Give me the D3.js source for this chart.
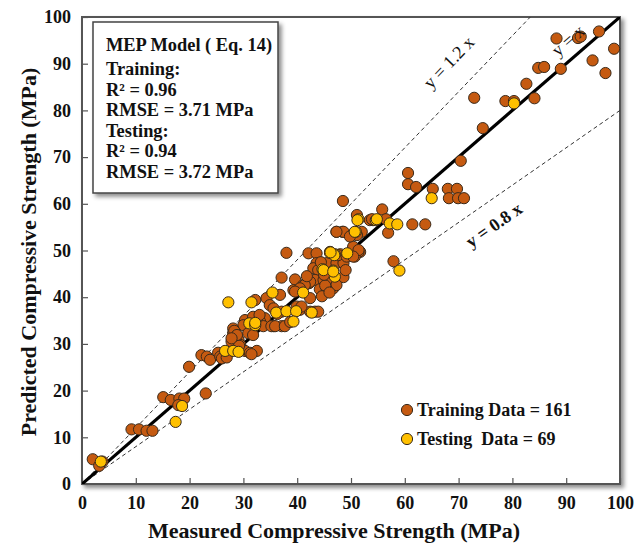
<!DOCTYPE html>
<html><head><meta charset="utf-8">
<script src="https://cdn.jsdelivr.net/npm/d3@7"></script>
<style>body{margin:0;background:#fff}svg{display:block}</style>
</head><body>
<script>
const xTicks=[0,10,20,30,40,50,60,70,80,90,100];
const yTicks=[0,10,20,30,40,50,60,70,80,90,100];
const trainX=[88.2,92.2,92.7,96.1,98.9,94.9,97.3,89,84.8,85.9,82.6,78.7,80.3,84.1,72.9,74.5,70.4,
60.6,60.6,62.1,65.2,68,69.7,68.2,69.9,71,
55.8,57.9,61.4,63.8,56.9,56.5,53.5,54.1,52,51.7,
48.5,51.1,53.9,47.3,48.4,50.1,42.1,43.6,48,50.4,51.4,50.7,46.7,48,48.6,
38.0,37.1,39.6,42.2,41.1,43.6,45.5,39.3,34.3,34.9,35.6,32.2,37.1,40.5,42.4,43.3,34,33.1,30.3,30,33.7,35.6,37.1,28.1,
39.9,40.8,36.3,35.2,35.9,37.7,32.2,28.4,28.1,30.9,31.8,29.1,28.1,29.4,25.3,30.3,31.2,32.5,31.5,22.2,23.2,23.8,
2.0,3.8,3.2,9.2,10.6,12.0,13.1,15.1,16.5,18.1,19.0,17.9,23.0,
19.9,25.7,26,26.9,27.8,29.2,
43.0,43.9,43.3,44.9,45.8,46.7,47.3,44.2,45.5,42.4,41.4,40.5,39.6,42.4,43.9,47.3,48.6,47.6,49.2,50.4,51.4,50.4,51.1,48.6,47.3,49.8,
28.3,28.8,27.8,31.8,38.7,44.4,45.2,41.8,36.8,33.0,44.6,46.0,49.0,45.0];
const trainY=[95.4,95.5,95.8,96.9,93.2,90.7,88.0,88.9,89.1,89.3,85.7,82.0,82.0,82.6,82.7,76.2,69.2,
66.6,64.2,63.6,63.2,63.2,63.2,61.2,61.2,61.2,
58.8,47.7,55.6,55.6,53.8,56.7,56.5,56.5,54,49.7,
60.6,57.6,56.7,54.0,54.0,53.3,49.4,49.4,49.2,50.5,49.7,48.7,47.6,47.6,44.3,
49.5,44.2,43.8,43.0,42.6,47.3,47.3,41.5,39.8,38.3,37.6,39.4,36.9,37.3,36.9,36.9,35.5,34.8,35.1,34,33.8,33.8,33.8,33.3,
38,38,36.4,33.8,33.8,33.8,34.8,32.6,32.3,32.3,31.9,30.8,30.5,29.8,28.1,28.5,28.1,28.5,27.8,27.6,27.3,26.6,
5.3,4.8,3.9,11.7,11.7,11.4,11.4,18.6,18.0,18.3,18.3,16.9,19.4,
25.1,27.3,26.9,27.1,30.5,29.6,
46.2,45.8,43.7,43.7,43.7,41.9,42.6,41.7,41.7,43.3,42.6,41.9,41.2,39.8,36.9,47.3,47.3,49,48.7,50.8,50.1,48.7,53.3,54,54,53,
32.8,31.9,31.2,35.8,34.7,47.5,42.5,44.5,40.5,36.2,40.2,41.0,45.8,44.8];
const testX=[80.3,65,54.6,57.2,58.6,51.4,54.8,50.9,46.1,47,49.3,59,44.7,46.7,47,46.1,46.9,44.9,35.4,41.1,27.2,31.5,36.1,38.0,39.8,42.7,39.3,31.1,32.2,26.6,28.1,29.1,3.5,17.4,18.6,46.2,50.7,51.2,32.2,46.7];
const testY=[81.5,61.2,56.5,55.8,55.6,56.7,56.7,54.0,49.7,49.2,49.4,45.7,46.0,45.7,44.4,49.5,49.0,45.8,41.0,41.0,38.9,38.9,36.7,37.0,37.0,36.7,34.8,34.4,34.0,28.5,28.5,28.3,4.8,13.3,16.7,49.6,54,56.5,34.5,45.5];
const infoLines=["MEP Model ( Eq. 14)","Training:","R\u00B2 = 0.96","RMSE = 3.71 MPa","Testing:","R\u00B2 = 0.94","RMSE = 3.72 MPa"];
const legendLabels=["Training Data = 161","Testing  Data = 69"];

const W=642,H=544;
const L=82,R=620,T=17,B=484;
const font="'Liberation Serif','Times New Roman',serif";
const cTrain="#C55A11",cTest="#FFC000";

const svg=d3.select("body").append("svg").attr("width",W).attr("height",H);
const defs=svg.append("defs");
const f=defs.append("filter").attr("id","sh").attr("x","-10%").attr("y","-10%").attr("width","130%").attr("height","130%");
f.append("feDropShadow").attr("dx",3).attr("dy",3).attr("stdDeviation",2).attr("flood-color","#000").attr("flood-opacity",0.45);
defs.append("clipPath").attr("id","clip").append("rect").attr("x",L).attr("y",T).attr("width",R-L).attr("height",B-T);

const x=d3.scaleLinear().domain([0,100]).range([L,R]);
const y=d3.scaleLinear().domain([0,100]).range([B,T]);

svg.append("rect").attr("x",L).attr("y",T).attr("width",R-L).attr("height",B-T)
  .attr("fill","#fff").attr("stroke","#555").attr("stroke-width",2).attr("filter","url(#sh)");

const gx=svg.append("g").attr("transform",`translate(0,${B})`)
  .call(d3.axisBottom(x).tickValues(xTicks).tickSize(-6).tickPadding(12).tickFormat(d3.format("d")));
const gy=svg.append("g").attr("transform",`translate(${L},0)`)
  .call(d3.axisLeft(y).tickValues(yTicks).tickSize(-6).tickPadding(11).tickFormat(d3.format("d")));
[gx,gy].forEach(g=>{
  g.select(".domain").remove();
  g.selectAll(".tick line").attr("stroke","#555").attr("stroke-width",1.2);
  g.selectAll("text").attr("font-family",font).attr("font-weight","bold").attr("font-size",18).attr("fill","#111");
});

const gl=svg.append("g").attr("clip-path","url(#clip)");
const line=d3.line().x(d=>x(d[0])).y(d=>y(d[1]));
gl.append("path").attr("d",line([[0,0],[100,120]])).attr("stroke","#333").attr("stroke-width",1).attr("stroke-dasharray","4,3").attr("fill","none");
gl.append("path").attr("d",line([[0,0],[100,80]])).attr("stroke","#333").attr("stroke-width",1).attr("stroke-dasharray","4,3").attr("fill","none");
gl.append("path").attr("d",line([[0,0],[100,100]])).attr("stroke","#000").attr("stroke-width",3.2).attr("fill","none");

const gp=svg.append("g");
gp.selectAll("circle.tr").data(d3.range(trainX.length)).join("circle").attr("class","tr")
  .attr("cx",i=>x(trainX[i])).attr("cy",i=>y(trainY[i])).attr("r",5.6)
  .attr("fill",cTrain).attr("stroke","#3a2a1a").attr("stroke-width",1);
gp.selectAll("circle.te").data(d3.range(testX.length)).join("circle").attr("class","te")
  .attr("cx",i=>x(testX[i])).attr("cy",i=>y(testY[i])).attr("r",5.6)
  .attr("fill",cTest).attr("stroke","#3a2a1a").attr("stroke-width",1);

function rotLabel(vx,vy,slope,txt,bold){
  const ang=-Math.atan(slope*(B-T)/(R-L))*180/Math.PI;
  svg.append("text").attr("transform",`translate(${x(vx)},${y(vy)}) rotate(${ang})`)
    .attr("text-anchor","middle").attr("font-family",font).attr("font-size",18)
    .attr("font-weight",bold?"bold":"normal").attr("fill","#111").text(txt);
}
rotLabel(69,89.4,1.2,"y = 1.2 x",false);
rotLabel(77.2,54.4,0.8,"y = 0.8 x",true);
rotLabel(91.1,94,1.0,"y = x",false);

svg.append("rect").attr("x",93).attr("y",22).attr("width",185).attr("height",171)
  .attr("fill","#fff").attr("stroke","#444").attr("stroke-width",1.5).attr("filter","url(#sh)");
const by=[51,75,96,116,137,157,178];
svg.append("g").selectAll("text").data(infoLines).join("text")
  .attr("x",106).attr("y",(d,i)=>by[i]).attr("font-family",font).attr("font-weight","bold")
  .attr("font-size",18.4).attr("fill","#111").style("white-space","pre").text(d=>d);

const lg=svg.append("g");
[[cTrain,410],[cTest,439]].forEach((c,i)=>{
  lg.append("circle").attr("cx",407).attr("cy",c[1]).attr("r",5.6).attr("fill",c[0]).attr("stroke","#3a2a1a").attr("stroke-width",1);
  lg.append("text").attr("x",417).attr("y",c[1]+6).attr("font-family",font).attr("font-weight","bold")
    .attr("font-size",18).attr("fill","#111").style("white-space","pre").text(legendLabels[i]);
});

svg.append("text").attr("x",334).attr("y",538).attr("text-anchor","middle").attr("font-family",font)
  .attr("font-weight","bold").attr("font-size",22).attr("fill","#111").text("Measured Compressive Strength (MPa)");
svg.append("text").attr("transform","translate(36,252) rotate(-90)").attr("text-anchor","middle").attr("font-family",font)
  .attr("font-weight","bold").attr("font-size",22).attr("fill","#111").text("Predicted Compressive Strength (MPa)");
</script>
</body></html>
